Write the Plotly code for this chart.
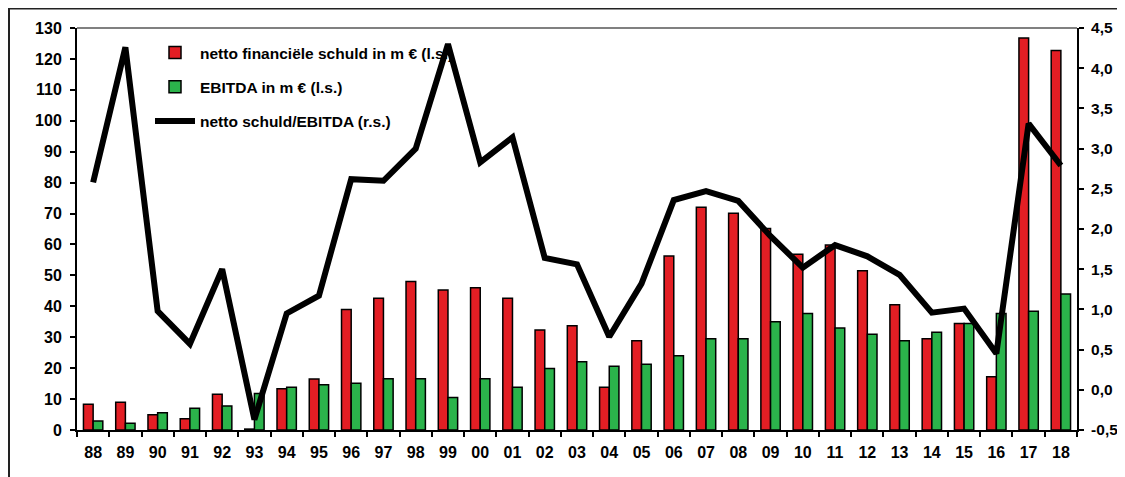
import plotly.graph_objects as go

years = ["88", "89", "90", "91", "92", "93", "94", "95", "96", "97", "98", "99", "00", "01", "02",
         "03", "04", "05", "06", "07", "08", "09", "10", "11", "12", "13", "14", "15", "16", "17", "18"]
net_debt = [8.3, 9.0, 4.9, 3.6, 11.6, 0.3, 13.3, 16.5, 39.0, 42.6, 48.0, 45.3, 46.0, 42.6, 32.3,
            33.7, 13.8, 28.9, 56.3, 72.0, 70.1, 65.2, 56.8, 59.8, 51.5, 40.5, 29.5, 34.4, 17.2, 126.8, 122.7]
ebitda = [2.9, 2.2, 5.6, 7.0, 7.8, 11.8, 13.8, 14.6, 15.1, 16.6, 16.6, 10.5, 16.6, 13.8, 19.9,
          22.1, 20.6, 21.3, 24.0, 29.5, 29.5, 35.0, 37.7, 33.0, 31.0, 28.9, 31.6, 34.4, 37.7, 38.4, 44.0]
ratio = [2.58, 4.26, 0.98, 0.57, 1.50, -0.37, 0.95, 1.17, 2.62, 2.60, 3.00, 4.30, 2.83, 3.14, 1.64,
         1.56, 0.66, 1.32, 2.36, 2.47, 2.35, 1.91, 1.52, 1.80, 1.66, 1.43, 0.96, 1.01, 0.45, 3.31, 2.79]

left_ticks = list(range(0, 131, 10))
right_tickvals = [-0.5, 0.0, 0.5, 1.0, 1.5, 2.0, 2.5, 3.0, 3.5, 4.0, 4.5]
right_ticktext = ["-0,5", "0,0", "0,5", "1,0", "1,5", "2,0", "2,5", "3,0", "3,5", "4,0", "4,5"]

names = ["netto financiële schuld in m € (l.s.)", "EBITDA in m € (l.s.)", "netto schuld/EBITDA (r.s.)"]

FONT = dict(family="Liberation Sans, Arial, sans-serif", size=16, color="black", weight="bold")
RFONT = dict(family="Liberation Sans, Arial, sans-serif", size=15.5, color="black", weight="bold")
LFONT = dict(family="Liberation Sans, Arial, sans-serif", size=15.5, color="black", weight="bold")

fig = go.Figure()
fig.add_trace(go.Bar(x=years, y=net_debt, name=names[0], legendgroup="a",
                     marker=dict(color="#e31e24", line=dict(color="black", width=1.5))))
fig.add_trace(go.Bar(x=years, y=ebitda, name=names[1], legendgroup="b",
                     marker=dict(color="#2bb34b", line=dict(color="black", width=1.5))))
fig.add_trace(go.Scatter(x=years, y=ratio, name=names[2], legendgroup="c", yaxis="y2",
                         mode="lines", line=dict(color="black", width=6)))

fig.update_layout(
    width=1117, height=477,
    margin=dict(l=69, r=48, t=20, b=55, autoexpand=False),
    paper_bgcolor="white", plot_bgcolor="white",
    font=FONT,
    barmode="group", bargap=0.4, bargroupgap=0,
    showlegend=True,
    legend=dict(x=0.073, y=0.98, xanchor="left", yanchor="top", bgcolor="rgba(0,0,0,0)",
                font=LFONT, traceorder="grouped", tracegroupgap=11, itemwidth=40),
    xaxis=dict(type="category", categoryorder="array", categoryarray=years, range=[-0.5, 30.5],
               showgrid=False, showline=True, linecolor="black", linewidth=2, automargin=False,
               ticks="outside", ticklen=5, tickwidth=2, tickcolor="black", tickson="boundaries",
               ticklabelstandoff=7, tickfont=FONT, zeroline=False),
    yaxis=dict(range=[0, 130], tickvals=left_ticks, showgrid=False, showline=True, linecolor="black",
               linewidth=2, ticks="outside", ticklen=5, tickwidth=2, tickcolor="black", automargin=False,
               tickfont=FONT, zeroline=False, ticklabelstandoff=5),
    yaxis2=dict(range=[-0.5, 4.5], tickvals=right_tickvals, ticktext=right_ticktext, overlaying="y",
                side="right", showgrid=False, showline=True, linecolor="black", linewidth=2,
                ticks="outside", ticklen=5, tickwidth=2, tickcolor="black", tickfont=RFONT,
                zeroline=False, ticklabelstandoff=4, automargin=False),
    yaxis3=dict(range=[0, 130], tickvals=left_ticks, overlaying="y", side="left", showgrid=False,
                showline=False, ticks="inside", ticklen=5, tickwidth=2, tickcolor="black",
                showticklabels=False, zeroline=False, automargin=False),
    yaxis4=dict(range=[-0.5, 4.5], tickvals=right_tickvals, overlaying="y", side="right",
                showgrid=False, showline=False, ticks="inside", ticklen=5, tickwidth=2,
                tickcolor="black", showticklabels=False, zeroline=False, automargin=False),
    shapes=[
        dict(type="line", xref="paper", yref="paper", x0=0, x1=1, y0=1, y1=1,
             line=dict(color="#808080", width=2)),
        dict(type="rect", xref="paper", yref="paper", x0=-0.068, x1=1.046, y0=-0.2, y1=1.0485,
             line=dict(color="#222222", width=2), fillcolor="rgba(0,0,0,0)", layer="below"),
    ],
)

fig.write_html("out.html")
